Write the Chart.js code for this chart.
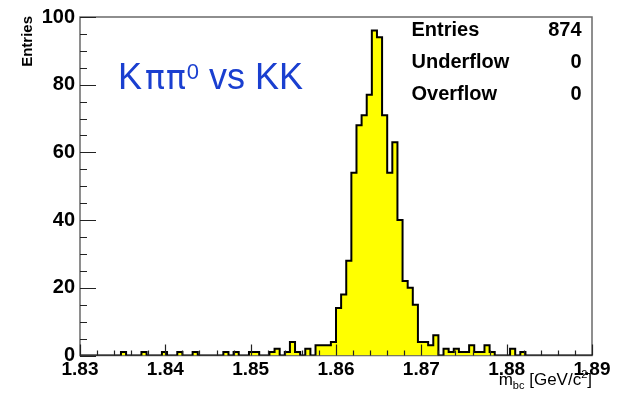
<!DOCTYPE html>
<html><head><meta charset="utf-8">
<script src="https://cdn.jsdelivr.net/npm/chart.js@4/dist/chart.umd.min.js"></script>
<style>html,body{margin:0;padding:0;background:#fff}#wrap{width:617px;height:394px;position:relative}</style>
</head><body><div id="wrap"><canvas id="c" width="617" height="394"></canvas></div>
<script>
// ---- data ----
const binLow = 1.83;
const binWidth = 0.0006;
const counts = [
  0,0,0,0,0,0,0,0,1,0,
  0,0,1,0,0,0,1,0,0,1,
  0,0,1,0,0,0,0,0,1,0,
  1,0,0,1,1,0,0,1,2,0,
  1,4,1,0,2,0,3,3,3,4,
  14,18,28,54,68,71,77,96,94,71,
  54,63,40,22,20,15,4,4,3,6,
  0,2,1,2,1,1,3,1,1,3,
  1,0,0,0,2,0,1,0,0,0,
  0,0,0,0,0,0,0,0,0,0
];
const xTicks = [1.83,1.84,1.85,1.86,1.87,1.88,1.89];
const yTicks = [0,20,40,60,80,100];
const xMinorStep = 0.002;
const yMinorStep = 5;
const statLabels = ['Entries','Underflow','Overflow'];
const statValues = ['874','0','0'];
const yTitle = 'Entries';

const points = counts.map((c,i)=>({x: binLow + i*binWidth, y: c}));
points.push({x: binLow + counts.length*binWidth, y: counts[counts.length-1]});

const FONT = '"Liberation Sans", Arial, sans-serif';

const decor = {
  id: 'decor',
  beforeDatasetsDraw(chart){
    const {ctx, chartArea:a} = chart;
    ctx.save();
    ctx.strokeStyle = '#6a6a6a'; ctx.lineWidth = 1.5;
    ctx.strokeRect(a.left, a.top, a.right-a.left, a.bottom-a.top);
    ctx.restore();
  },
  afterDatasetsDraw(chart){
    const {ctx, chartArea:a, scales:{x,y}} = chart;
    ctx.save();
    ctx.strokeStyle = '#222'; ctx.lineWidth = 1.2;
    ctx.beginPath();
    const nx = Math.round((x.max - x.min)/xMinorStep);
    for (let k=0;k<=nx;k++){
      const px = Math.round(x.getPixelForValue(x.min + k*xMinorStep)) + 0.5;
      const len = (k%5===0) ? 11 : 5;
      ctx.moveTo(px, a.bottom); ctx.lineTo(px, a.bottom-len);
    }
    const ny = Math.round((y.max - y.min)/yMinorStep);
    for (let k=0;k<=ny;k++){
      const py = Math.round(y.getPixelForValue(y.min + k*yMinorStep)) + 0.5;
      const len = (k%4===0) ? 16 : 7;
      ctx.moveTo(a.left, py); ctx.lineTo(a.left+len, py);
    }
    ctx.stroke();

    // y title
    ctx.save();
    ctx.translate(28, a.top - 1);
    ctx.rotate(-Math.PI/2);
    ctx.font = 'bold 15px ' + FONT;
    ctx.fillStyle = '#000';
    ctx.textAlign = 'right'; ctx.textBaseline = 'middle';
    ctx.fillText(yTitle, 0, 0);
    ctx.restore();

    // x title (m_bc [GeV/c^2]) right aligned
    const parts = [['m',17,0],['bc',11,4],[' [GeV/c',17,0],['2',11,-7],[']',17,0]];
    let total = 0;
    parts.forEach(p=>{ ctx.font = p[1]+'px '+FONT; p.push(ctx.measureText(p[0]).width); total += p[3]; });
    let cx = a.right - total;
    ctx.fillStyle = '#000'; ctx.textAlign='left'; ctx.textBaseline='alphabetic';
    parts.forEach(p=>{ ctx.font = p[1]+'px '+FONT; ctx.fillText(p[0], cx, 385 + p[2]); cx += p[3]; });

    // stats box
    ctx.font = 'bold 20px ' + FONT;
    statLabels.forEach((s,i)=>{
      ctx.textAlign='left'; ctx.fillText(s, 411.5, 36 + i*32);
      ctx.textAlign='right'; ctx.fillText(statValues[i], 581.5, 36 + i*32);
    });

    // annotation
    ctx.fillStyle = '#1a3fd0'; ctx.textAlign='left';
    let tx = 118;
    ctx.font = '36px ' + FONT;
    ctx.fillText('K', tx, 88.5); tx += ctx.measureText('K').width + 3;
    ctx.font = '33px "DejaVu Sans", sans-serif';
    ctx.fillText('\u03C0', tx, 88.5); tx += ctx.measureText('\u03C0').width + 1;
    ctx.fillText('\u03C0', tx, 88.5); tx += ctx.measureText('\u03C0').width + 1;
    ctx.font = '22px ' + FONT;
    ctx.fillText('0', tx, 78.5); tx += ctx.measureText('0').width;
    ctx.font = '36px ' + FONT;
    ctx.fillText(' vs KK', tx, 88.5);
    ctx.restore();
  }
};

new Chart(document.getElementById('c'), {
  type: 'line',
  data: { datasets: [{
    data: points,
    stepped: true,
    fill: 'origin',
    backgroundColor: '#ffff00',
    borderColor: '#000',
    borderWidth: 2,
    pointRadius: 0,
    tension: 0
  }]},
  options: {
    responsive: false, animation: false, devicePixelRatio: 1,
    layout: { padding: { top: 13, right: 25, left: 0, bottom: 0 } },
    plugins: { legend: {display:false}, tooltip: {enabled:false} },
    scales: {
      x: {
        type: 'linear', min: 1.83, max: 1.89,
        afterBuildTicks: s => { s.ticks = xTicks.map(v=>({value:v})); },
        afterFit: s => { s.height = 38.5; },
        grid: { display:false, drawTicks:false },
        border: { display:false },
        ticks: { autoSkip:false, maxRotation:0, padding: 3, color:'#000',
          font: { family: FONT, size: 19, weight: 'bold' },
          callback: v => Number(v).toFixed(2) }
      },
      y: {
        min: 0, max: 100,
        afterBuildTicks: s => { s.ticks = yTicks.map(v=>({value:v})); },
        afterFit: s => { s.width = 80; },
        grid: { display:false, drawTicks:false },
        border: { display:false },
        ticks: { padding: 5, color:'#000',
          font: { family: FONT, size: 20, weight: 'bold' },
          callback: v => String(v) }
      }
    }
  },
  plugins: [decor]
});
</script>
</body></html>
